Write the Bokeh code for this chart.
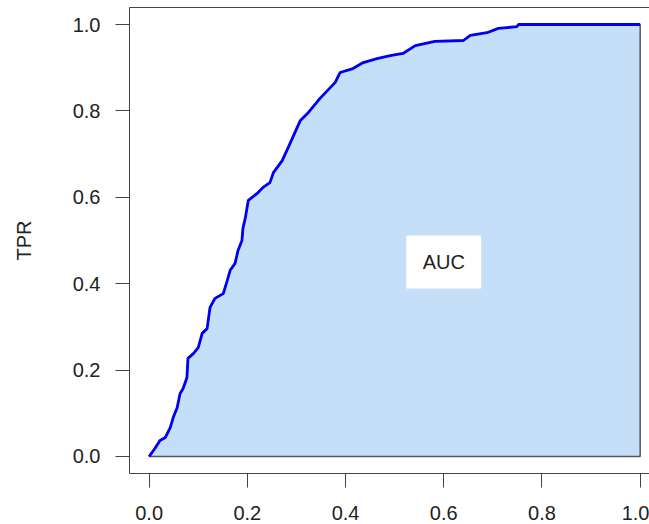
from bokeh.plotting import figure
from bokeh.models import Range1d, FixedTicker, LinearAxis
from bokeh.embed import file_html
from bokeh.resources import INLINE
from bokeh.core.properties import value

# ROC curve
fpr = [0.0, 0.012, 0.022, 0.033, 0.043, 0.049, 0.057, 0.063, 0.069, 0.077,
       0.079, 0.090, 0.100, 0.108, 0.118, 0.124, 0.134, 0.151, 0.159, 0.165,
       0.175, 0.181, 0.189, 0.191, 0.196, 0.202, 0.220, 0.232, 0.246, 0.253,
       0.271, 0.287, 0.308, 0.324, 0.348, 0.363, 0.379, 0.389, 0.415, 0.436,
       0.464, 0.491, 0.517, 0.542, 0.582, 0.640, 0.654, 0.688, 0.711, 0.749,
       0.752, 1.0]
tpr = [0.0, 0.019, 0.037, 0.044, 0.067, 0.090, 0.113, 0.146, 0.157, 0.183,
       0.227, 0.238, 0.252, 0.285, 0.296, 0.345, 0.366, 0.377, 0.407, 0.431,
       0.447, 0.477, 0.500, 0.528, 0.553, 0.593, 0.609, 0.623, 0.634, 0.657,
       0.685, 0.725, 0.778, 0.796, 0.829, 0.847, 0.866, 0.889, 0.898, 0.912,
       0.921, 0.928, 0.933, 0.951, 0.961, 0.963, 0.975, 0.981, 0.991, 0.995,
       1.0, 1.0]

tick_values = [0.0, 0.2, 0.4, 0.6, 0.8, 1.0]
tick_labels = ["0.0", "0.2", "0.4", "0.6", "0.8", "1.0"]
y_title = "TPR"
auc_text = ["AUC"]
auc_x = [0.6]
auc_y = [0.45]

FONT = "Liberation Sans"
TXT = "#222222"
AX = "#444444"

p = figure(width=649, height=524,
           x_range=Range1d(-0.04, 1.019), y_range=Range1d(-0.0394, 1.0394),
           output_backend="svg", toolbar_location=None,
           min_border_left=129, min_border_right=0,
           min_border_top=7, min_border_bottom=51)
p.xgrid.visible = False
p.ygrid.visible = False
p.outline_line_color = None
p.background_fill_color = "white"
p.border_fill_color = "white"

labels = {v: s for v, s in zip(tick_values, tick_labels)}
for ax in (p.xaxis[0], p.yaxis[0]):
    ax.ticker = FixedTicker(ticks=tick_values)
    ax.major_label_overrides = labels
    ax.minor_tick_line_color = None
    ax.major_tick_in = 0
    ax.major_tick_out = 14
    ax.major_tick_line_color = AX
    ax.axis_line_color = AX
    ax.major_label_text_font = FONT
    ax.major_label_text_font_size = "20px"
    ax.major_label_text_color = TXT

p.xaxis[0].major_label_standoff = 18
p.yaxis[0].major_label_standoff = 15
p.yaxis[0].axis_label = y_title
p.yaxis[0].axis_label_text_font = FONT
p.yaxis[0].axis_label_text_font_size = "20px"
p.yaxis[0].axis_label_text_font_style = "normal"
p.yaxis[0].axis_label_text_color = TXT
p.yaxis[0].axis_label_standoff = 35

top = LinearAxis(ticker=FixedTicker(ticks=[]), major_tick_out=0, major_tick_in=0,
                 minor_tick_line_color=None, major_label_standoff=0,
                 axis_line_color=AX, major_label_text_font_size="0px")
p.add_layout(top, "above")

# filled area under the curve
px = fpr + [fpr[-1], fpr[0]]
py = tpr + [tpr[0], tpr[0]]
p.patch(px, py, fill_color="#C6DFF8", line_color="#555555", line_width=1.5)
p.line(fpr, tpr, line_color="#0000EE", line_width=2.8)

# AUC label box
p.rect(x=auc_x, y=auc_y, width=75, height=53, width_units="screen",
       height_units="screen", fill_color="white", line_color=None)
p.text(x=auc_x, y=auc_y, text=auc_text, text_font=value(FONT),
       text_font_size="20px", text_color=TXT, text_align="center",
       text_baseline="middle")

open("out.html", "w").write(file_html(p, INLINE))
